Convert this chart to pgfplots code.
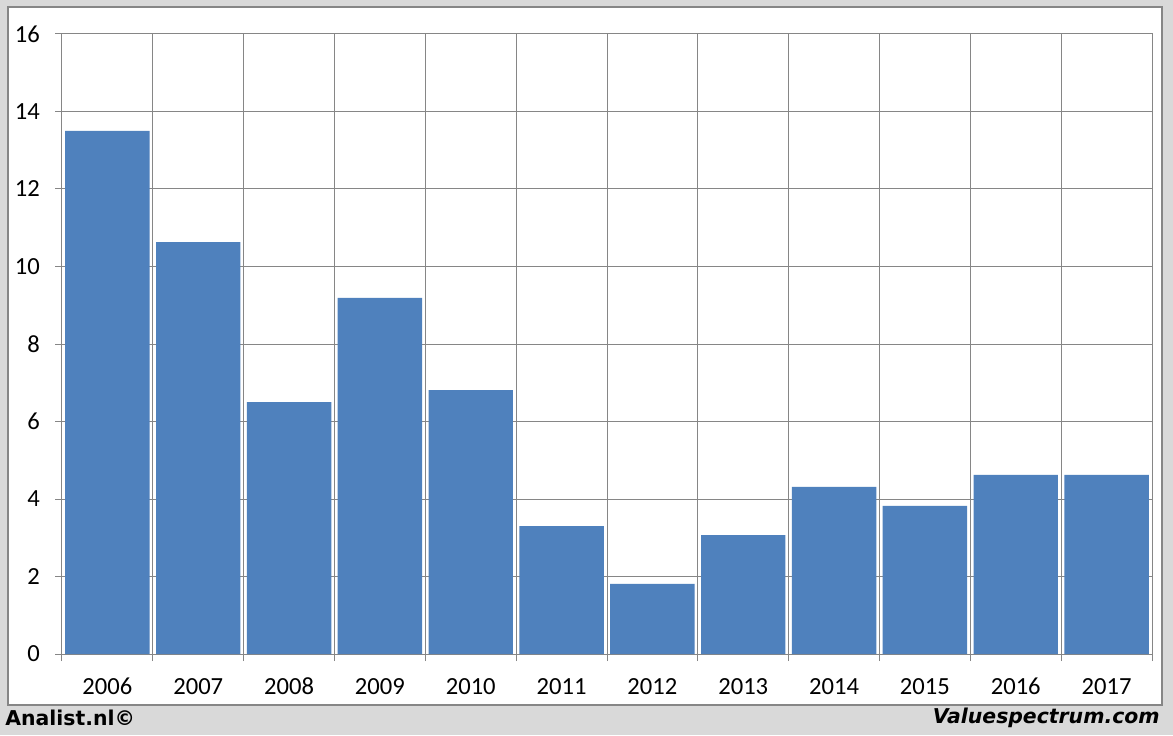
\documentclass[border=0pt]{standalone}
\usepackage{fontspec}
\setmainfont{Carlito}
\newfontfamily\footfont{DejaVu Sans}
\usepackage{pgfplots}
\pgfplotsset{compat=1.18}
\definecolor{barblue}{HTML}{4F81BD}
\definecolor{gridgray}{HTML}{868686}
\definecolor{bggray}{HTML}{D9D9D9}

\begin{document}
\begin{tikzpicture}
  % background and white panel (1px = 0.5pt, y up)
  \fill[bggray] (0pt,0pt) rectangle (586.5pt,367.5pt);
  \filldraw[fill=white, draw=gridgray, line width=0.8pt] (4pt,15pt) rectangle (581pt,364pt);
  \node[anchor=west, inner sep=0pt] at (2.5pt,8.5pt) {\footfont\fontsize{10.2}{12}\selectfont\bfseries Analist.nl©};
  \node[anchor=east, inner sep=0pt] at (580pt,8.5pt) {\footfont\fontsize{10.2}{12}\selectfont\bfseries\itshape Valuespectrum.com};

  \begin{axis}[
      at={(31pt,40.5pt)}, anchor=south west,
      scale only axis, width=545pt, height=310pt,
      xmin=0, xmax=12, ymin=0, ymax=16,
      xtick={0.5,1.5,...,11.5},
      xticklabels={2006,2007,2008,2009,2010,2011,2012,2013,2014,2015,2016,2017},
      minor xtick={0,1,...,12},
      xminorgrids=true,
      ytick={0,2,...,16},
      ymajorgrids=true,
      grid style={gridgray, line width=0.5pt},
      minor grid style={gridgray, line width=0.5pt},
      axis line style={gridgray, line width=0.5pt},
      tick style={gridgray, line width=0.5pt},
      tick align=outside,
      xtick pos=bottom, ytick pos=left,
      major x tick style={draw=none},
      minor tick length=3.5pt,
      major tick length=3.5pt,
      ticklabel style={font=\fontsize{12.3}{14}\selectfont},
      xticklabel style={text height=8pt, text depth=0pt, yshift=-5pt},
      yticklabel style={xshift=-4pt},
      /pgf/number format/assume math mode=true,
    ]
    \addplot[ybar, bar width=0.93, fill=barblue, draw=none]
      coordinates {(0.5,13.50) (1.5,10.63) (2.5,6.50) (3.5,9.19) (4.5,6.81)
                   (5.5,3.30) (6.5,1.81) (7.5,3.07) (8.5,4.31) (9.5,3.82)
                   (10.5,4.62) (11.5,4.62)};
  \end{axis}
\end{tikzpicture}
\end{document}
